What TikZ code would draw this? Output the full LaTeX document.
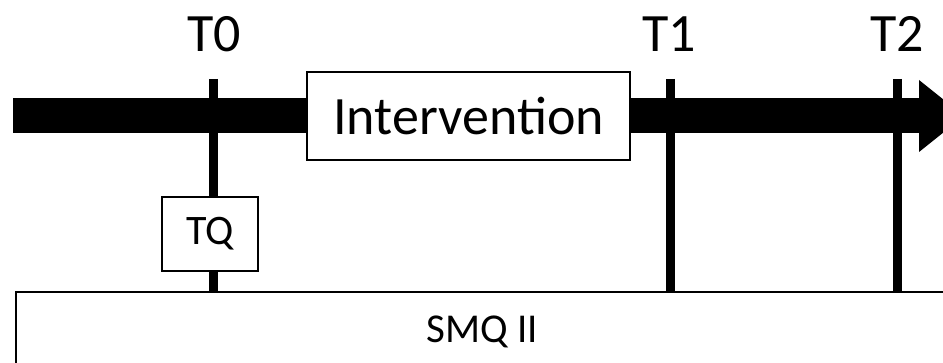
\documentclass[tikz,border=0pt]{standalone}
\usepackage{fontspec}
\setmainfont{Carlito}
\begin{document}
\begin{tikzpicture}[x=1pt,y=-1pt,
  boxst/.style={draw=black,line width=1.6pt,fill=white,inner sep=0pt},
  tick/.style={line width=9pt},
  lab/.style={font=\fontsize{54}{54}\selectfont,anchor=base,inner sep=0pt}]
\useasboundingbox (0,0) rectangle (943,363);
\clip (0,0) rectangle (943,363);
% SMQ box
\node[boxst,anchor=north west,minimum width=960pt,minimum height=100pt] (smq) at (15,291) {};
\node[font=\fontsize{41}{41}\selectfont,anchor=base,inner sep=0pt] (smqt) at (482,343) {SMQ II};
% arrow
\fill (13,98) rectangle (920,133);
\fill (919,80) -- (964,116) -- (919,152) -- cycle;
% ticks
\coordinate (t0top) at (213.5,79);
\coordinate (t1top) at (670,79);
\coordinate (t2top) at (897.5,79);
\coordinate (t0bot) at (213.5,291);
\coordinate (t1bot) at (670,291);
\coordinate (t2bot) at (897.5,291);
\draw[tick] (t0top) -- (t0bot);
\draw[tick] (t1top) -- (t1bot);
\draw[tick] (t2top) -- (t2bot);
% labels
\node[lab] (T0) at (214,52) {T0};
\node[lab] (T1) at (669,52) {T1};
\node[lab] (T2) at (897.5,52) {T2};
% boxes
\node[boxst,minimum width=323pt,minimum height=88pt,font=\fontsize{54}{54}\selectfont] (int) at (468.5,116) {Intervention};
\node[boxst,minimum width=96pt,minimum height=74pt,font=\fontsize{42}{42}\selectfont] (tq) at (210,234) {TQ};
\end{tikzpicture}
\end{document}
